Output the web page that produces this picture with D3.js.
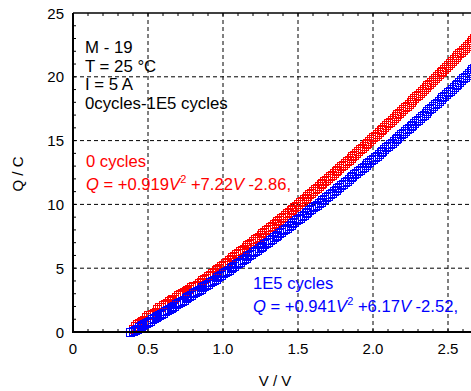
<!DOCTYPE html>
<html>
<head>
<meta charset="utf-8">
<script src="https://cdn.jsdelivr.net/npm/d3@7"></script>
<style>
  html, body { margin: 0; padding: 0; background: #fff; }
  svg { display: block; font-family: "Liberation Sans", Arial, sans-serif; }
</style>
</head>
<body>
<div id="chart"></div>
<script>
// Charge Q against voltage V, before cycling and after 1E5 cycles
const voltage = [0.38,
  0.4000, 0.4125, 0.4250, 0.4375, 0.4500, 0.4625, 0.4750, 0.4875,
  0.5000, 0.5125, 0.5250, 0.5375, 0.5500, 0.5625, 0.5750, 0.5875,
  0.6000, 0.6125, 0.6250, 0.6375, 0.6500, 0.6625, 0.6750, 0.6875,
  0.7000, 0.7125, 0.7250, 0.7375, 0.7500, 0.7625, 0.7750, 0.7875,
  0.8000, 0.8125, 0.8250, 0.8375, 0.8500, 0.8625, 0.8750, 0.8875,
  0.9000, 0.9125, 0.9250, 0.9375, 0.9500, 0.9625, 0.9750, 0.9875,
  1.0000, 1.0125, 1.0250, 1.0375, 1.0500, 1.0625, 1.0750, 1.0875,
  1.1000, 1.1125, 1.1250, 1.1375, 1.1500, 1.1625, 1.1750, 1.1875,
  1.2000, 1.2125, 1.2250, 1.2375, 1.2500, 1.2625, 1.2750, 1.2875,
  1.3000, 1.3125, 1.3250, 1.3375, 1.3500, 1.3625, 1.3750, 1.3875,
  1.4000, 1.4125, 1.4250, 1.4375, 1.4500, 1.4625, 1.4750, 1.4875,
  1.5000, 1.5125, 1.5250, 1.5375, 1.5500, 1.5625, 1.5750, 1.5875,
  1.6000, 1.6125, 1.6250, 1.6375, 1.6500, 1.6625, 1.6750, 1.6875,
  1.7000, 1.7125, 1.7250, 1.7375, 1.7500, 1.7625, 1.7750, 1.7875,
  1.8000, 1.8125, 1.8250, 1.8375, 1.8500, 1.8625, 1.8750, 1.8875,
  1.9000, 1.9125, 1.9250, 1.9375, 1.9500, 1.9625, 1.9750, 1.9875,
  2.0000, 2.0125, 2.0250, 2.0375, 2.0500, 2.0625, 2.0750, 2.0875,
  2.1000, 2.1125, 2.1250, 2.1375, 2.1500, 2.1625, 2.1750, 2.1875,
  2.2000, 2.2125, 2.2250, 2.2375, 2.2500, 2.2625, 2.2750, 2.2875,
  2.3000, 2.3125, 2.3250, 2.3375, 2.3500, 2.3625, 2.3750, 2.3875,
  2.4000, 2.4125, 2.4250, 2.4375, 2.4500, 2.4625, 2.4750, 2.4875,
  2.5000, 2.5125, 2.5250, 2.5375, 2.5500, 2.5625, 2.5750, 2.5875,
  2.6000, 2.6125, 2.6250, 2.6375, 2.6500, 2.6625, 2.6750];

const charge0 = [0.02,
  0.25, 0.45, 0.62, 0.68, 0.80, 0.90, 0.95, 1.15,
  1.30, 1.30, 1.42, 1.52, 1.55, 1.78, 1.95, 1.98,
  2.10, 2.22, 2.25, 2.42, 2.52, 2.55, 2.62, 2.78,
  2.90, 2.95, 3.02, 3.15, 3.25, 3.30, 3.40, 3.52,
  3.62, 3.64, 3.72, 3.83, 3.94, 4.05, 4.16, 4.27,
  4.38, 4.49, 4.60, 4.72, 4.83, 4.94, 5.05, 5.17,
  5.28, 5.39, 5.51, 5.62, 5.73, 5.85, 5.96, 6.08,
  6.19, 6.31, 6.43, 6.54, 6.66, 6.78, 6.89, 7.01,
  7.13, 7.25, 7.36, 7.48, 7.60, 7.72, 7.84, 7.96,
  8.08, 8.20, 8.32, 8.44, 8.56, 8.68, 8.81, 8.93,
  9.05, 9.17, 9.29, 9.42, 9.54, 9.67, 9.79, 9.91,
  10.04, 10.16, 10.29, 10.41, 10.54, 10.67, 10.79, 10.92,
  11.04, 11.17, 11.30, 11.43, 11.56, 11.68, 11.81, 11.94,
  12.07, 12.20, 12.33, 12.46, 12.59, 12.72, 12.85, 12.98,
  13.11, 13.25, 13.38, 13.51, 13.64, 13.78, 13.91, 14.04,
  14.18, 14.31, 14.44, 14.58, 14.71, 14.85, 14.98, 15.12,
  15.26, 15.39, 15.53, 15.67, 15.80, 15.94, 16.08, 16.22,
  16.35, 16.49, 16.63, 16.77, 16.91, 17.05, 17.19, 17.33,
  17.47, 17.61, 17.75, 17.90, 18.04, 18.18, 18.32, 18.46,
  18.61, 18.75, 18.89, 19.04, 19.18, 19.33, 19.47, 19.62,
  19.76, 19.91, 20.05, 20.20, 20.35, 20.49, 20.64, 20.79,
  20.93, 21.08, 21.23, 21.38, 21.53, 21.68, 21.83, 21.98,
  22.12, 22.27, 22.43, 22.58, 22.73, 22.88, 23.03];

const charge1E5 = [0.00,
  0.10, 0.18, 0.27, 0.36, 0.45, 0.53, 0.62, 0.71,
  0.80, 0.89, 0.98, 1.07, 1.16, 1.25, 1.34, 1.43,
  1.52, 1.61, 1.70, 1.80, 1.89, 1.98, 2.07, 2.17,
  2.26, 2.35, 2.45, 2.54, 2.64, 2.73, 2.83, 2.92,
  3.02, 3.11, 3.21, 3.31, 3.40, 3.50, 3.60, 3.70,
  3.80, 3.89, 3.99, 4.09, 4.19, 4.29, 4.39, 4.49,
  4.59, 4.69, 4.79, 4.89, 5.00, 5.10, 5.20, 5.30,
  5.41, 5.51, 5.61, 5.72, 5.82, 5.92, 6.03, 6.13,
  6.24, 6.34, 6.45, 6.56, 6.66, 6.77, 6.88, 6.98,
  7.09, 7.20, 7.31, 7.42, 7.52, 7.63, 7.74, 7.85,
  7.96, 8.07, 8.18, 8.29, 8.40, 8.52, 8.63, 8.74,
  8.85, 8.96, 9.08, 9.19, 9.30, 9.42, 9.53, 9.65,
  9.76, 9.88, 9.99, 10.11, 10.22, 10.34, 10.45, 10.57,
  10.69, 10.81, 10.92, 11.04, 11.16, 11.28, 11.40, 11.52,
  11.63, 11.75, 11.87, 11.99, 12.12, 12.24, 12.36, 12.48,
  12.60, 12.72, 12.84, 12.97, 13.09, 13.21, 13.34, 13.46,
  13.58, 13.71, 13.83, 13.96, 14.08, 14.21, 14.33, 14.46,
  14.59, 14.71, 14.84, 14.97, 15.10, 15.22, 15.35, 15.48,
  15.61, 15.74, 15.87, 16.00, 16.13, 16.26, 16.39, 16.52,
  16.65, 16.78, 16.91, 17.04, 17.18, 17.31, 17.44, 17.58,
  17.71, 17.84, 17.98, 18.11, 18.24, 18.38, 18.51, 18.65,
  18.79, 18.92, 19.06, 19.20, 19.33, 19.47, 19.61, 19.75,
  19.88, 20.02, 20.16, 20.30, 20.44, 20.58, 20.72];

const xTickValues = [0, 0.5, 1.0, 1.5, 2.0, 2.5];
const xTickLabels = ["0", "0.5", "1.0", "1.5", "2.0", "2.5"];
const yTickValues = [0, 5, 10, 15, 20, 25];
const yTickLabels = ["0", "5", "10", "15", "20", "25"];

const infoLines = ["M - 19", "T = 25 °C", "I = 5 A", "0cycles-1E5 cycles"];
const seriesNames = ["0 cycles", "1E5 cycles"];
const fitCoefs = [["+0.919", "+7.22", "-2.86,"], ["+0.941", "+6.17", "-2.52,"]];

const W = 471, H = 391;
const svg = d3.select("#chart").append("svg").attr("width", W).attr("height", H);

const x = d3.scaleLinear().domain([0, 2.6533]).range([73, 471]);
const y = d3.scaleLinear().domain([0, 25]).range([332, 13]);

// dashed grid
const grid = svg.append("g").attr("stroke", "#000").attr("stroke-width", 1)
  .attr("stroke-dasharray", "4,3");
grid.selectAll("line.gx").data(xTickValues.filter(d => d > 0)).join("line")
  .attr("x1", d => x(d)).attr("x2", d => x(d))
  .attr("y1", y(25)).attr("y2", y(0));
grid.selectAll("line.gy").data(yTickValues.filter(d => d > 0 && d < 25)).join("line")
  .attr("x1", x(0)).attr("x2", W)
  .attr("y1", d => y(d)).attr("y2", d => y(d));

// minor ticks, pointing inward
const minorX = d3.range(1, 27).map(i => i / 10);
const minorY = d3.range(1, 25);
const ticks = svg.append("g").attr("stroke", "#000").attr("stroke-width", 1);
ticks.selectAll("line.bx").data(minorX).join("line")
  .attr("x1", d => x(d)).attr("x2", d => x(d))
  .attr("y1", y(0)).attr("y2", y(0) - 3);
ticks.selectAll("line.tx").data(minorX).join("line")
  .attr("x1", d => x(d)).attr("x2", d => x(d))
  .attr("y1", y(25)).attr("y2", y(25) + 3);
ticks.selectAll("line.ly").data(minorY).join("line")
  .attr("x1", x(0)).attr("x2", x(0) + 3)
  .attr("y1", d => y(d)).attr("y2", d => y(d));

// data markers: open squares
const square = d3.symbol().type(d3.symbolSquare).size(56);
function drawSeries(values, color) {
  svg.append("g").selectAll("path")
    .data(voltage.map((v, i) => [v, values[i]]))
    .join("path")
    .attr("d", square)
    .attr("transform", d => `translate(${Math.round(x(d[0])) + 0.5},${Math.round(y(d[1])) + 0.5})`)
    .attr("fill", "none")
    .attr("stroke", color)
    .attr("stroke-width", 1)
    .attr("shape-rendering", "crispEdges");
}
drawSeries(charge0, "#ff0000");
drawSeries(charge1E5, "#0000ff");

// frame
svg.append("line").attr("x1", x(0)).attr("x2", W).attr("y1", y(25)).attr("y2", y(25))
  .attr("stroke", "#000").attr("stroke-width", 1.5);
svg.append("line").attr("x1", x(0)).attr("x2", W).attr("y1", y(0)).attr("y2", y(0))
  .attr("stroke", "#000").attr("stroke-width", 2);
svg.append("line").attr("x1", x(0)).attr("x2", x(0)).attr("y1", y(25)).attr("y2", y(0) + 1)
  .attr("stroke", "#000").attr("stroke-width", 2);

// tick labels
svg.append("g").selectAll("text").data(xTickValues).join("text")
  .attr("x", d => x(d)).attr("y", 354)
  .attr("text-anchor", "middle").attr("font-size", 15)
  .text((d, i) => xTickLabels[i]);
svg.append("g").selectAll("text").data(yTickValues).join("text")
  .attr("x", 64).attr("y", d => y(d) + 5.5)
  .attr("text-anchor", "end").attr("font-size", 15)
  .text((d, i) => yTickLabels[i]);

// axis titles
svg.append("text").attr("x", 275).attr("y", 386).attr("text-anchor", "middle")
  .attr("font-size", 15).text("V / V");
svg.append("text").attr("transform", "translate(23,174) rotate(-90)")
  .attr("text-anchor", "middle").attr("font-size", 15).text("Q / C");

// sample info block
svg.append("g").selectAll("text").data(infoLines).join("text")
  .attr("x", 85).attr("y", (d, i) => 53 + i * 18.5)
  .attr("font-size", 16.8).text(d => d);

// fit labels
function fitLabel(x0, y0, name, coefs, color) {
  const g = svg.append("g").attr("fill", color).attr("font-size", 16.6);
  g.append("text").attr("x", x0).attr("y", y0).text(name);
  const t = g.append("text").attr("x", x0).attr("y", y0 + 23);
  t.append("tspan").attr("font-style", "italic").text("Q");
  t.append("tspan").text(" = " + coefs[0]);
  t.append("tspan").attr("font-style", "italic").text("V");
  t.append("tspan").attr("dy", -7).attr("font-size", 11).text("2");
  t.append("tspan").attr("dy", 7).text(" " + coefs[1]);
  t.append("tspan").attr("font-style", "italic").text("V");
  t.append("tspan").text(" " + coefs[2]);
}
fitLabel(86, 167, seriesNames[0], fitCoefs[0], "#ff0000");
fitLabel(253, 289, seriesNames[1], fitCoefs[1], "#0000ff");
</script>
</body>
</html>
